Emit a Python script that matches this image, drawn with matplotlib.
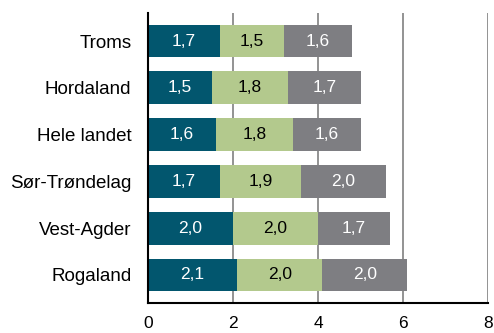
import matplotlib.pyplot as plt
import numpy as np

plt.rcParams['font.family'] = ['Liberation Sans', 'DejaVu Sans']

# Regions listed bottom to top so the first one lands at the bottom
regions = ['Rogaland', 'Vest-Agder', 'Sør-Trøndelag', 'Hele landet', 'Hordaland', 'Troms']
part1 = [2.1, 2.0, 1.7, 1.6, 1.5, 1.7]
part2 = [2.0, 2.0, 1.9, 1.8, 1.8, 1.5]
part3 = [2.0, 1.7, 2.0, 1.6, 1.7, 1.6]

colors = ['#02566E', '#B3C98D', '#7E7E82']
text_colors = ['white', 'black', 'white']

fig = plt.figure(figsize=(4.94, 3.33), dpi=100)
ax = fig.add_axes([0.2996, 0.090, 0.6884, 0.871])

y = np.arange(len(regions))
left = np.zeros(len(regions))
for vals, col, tcol in zip([part1, part2, part3], colors, text_colors):
    vals = np.array(vals)
    ax.barh(y, vals, left=left, height=0.7, color=col, zorder=3)
    for yi, l, v in zip(y, left, vals):
        ax.text(l + v / 2, yi, f"{v:.1f}".replace('.', ','), ha='center', va='center',
                color=tcol, fontsize=12.5, zorder=4)
    left += vals

ax.set_xlim(0, 8)
ax.set_ylim(-0.6, 5.6)
ax.set_xticks([0, 2, 4, 6, 8])
ax.set_yticks(y)
ax.set_yticklabels(regions, fontsize=13.5)
ax.tick_params(axis='x', labelsize=12.5, length=0, pad=9)
ax.tick_params(axis='y', length=0, pad=12)

# Vertical gridlines only
ax.grid(axis='x', color='#808080', linewidth=1.2, zorder=1)
for s in ['top', 'right']:
    ax.spines[s].set_visible(False)
ax.spines['left'].set_linewidth(1.5)
ax.spines['bottom'].set_linewidth(1.5)
ax.spines['left'].set_zorder(5)

plt.savefig('out.png', dpi=100)
